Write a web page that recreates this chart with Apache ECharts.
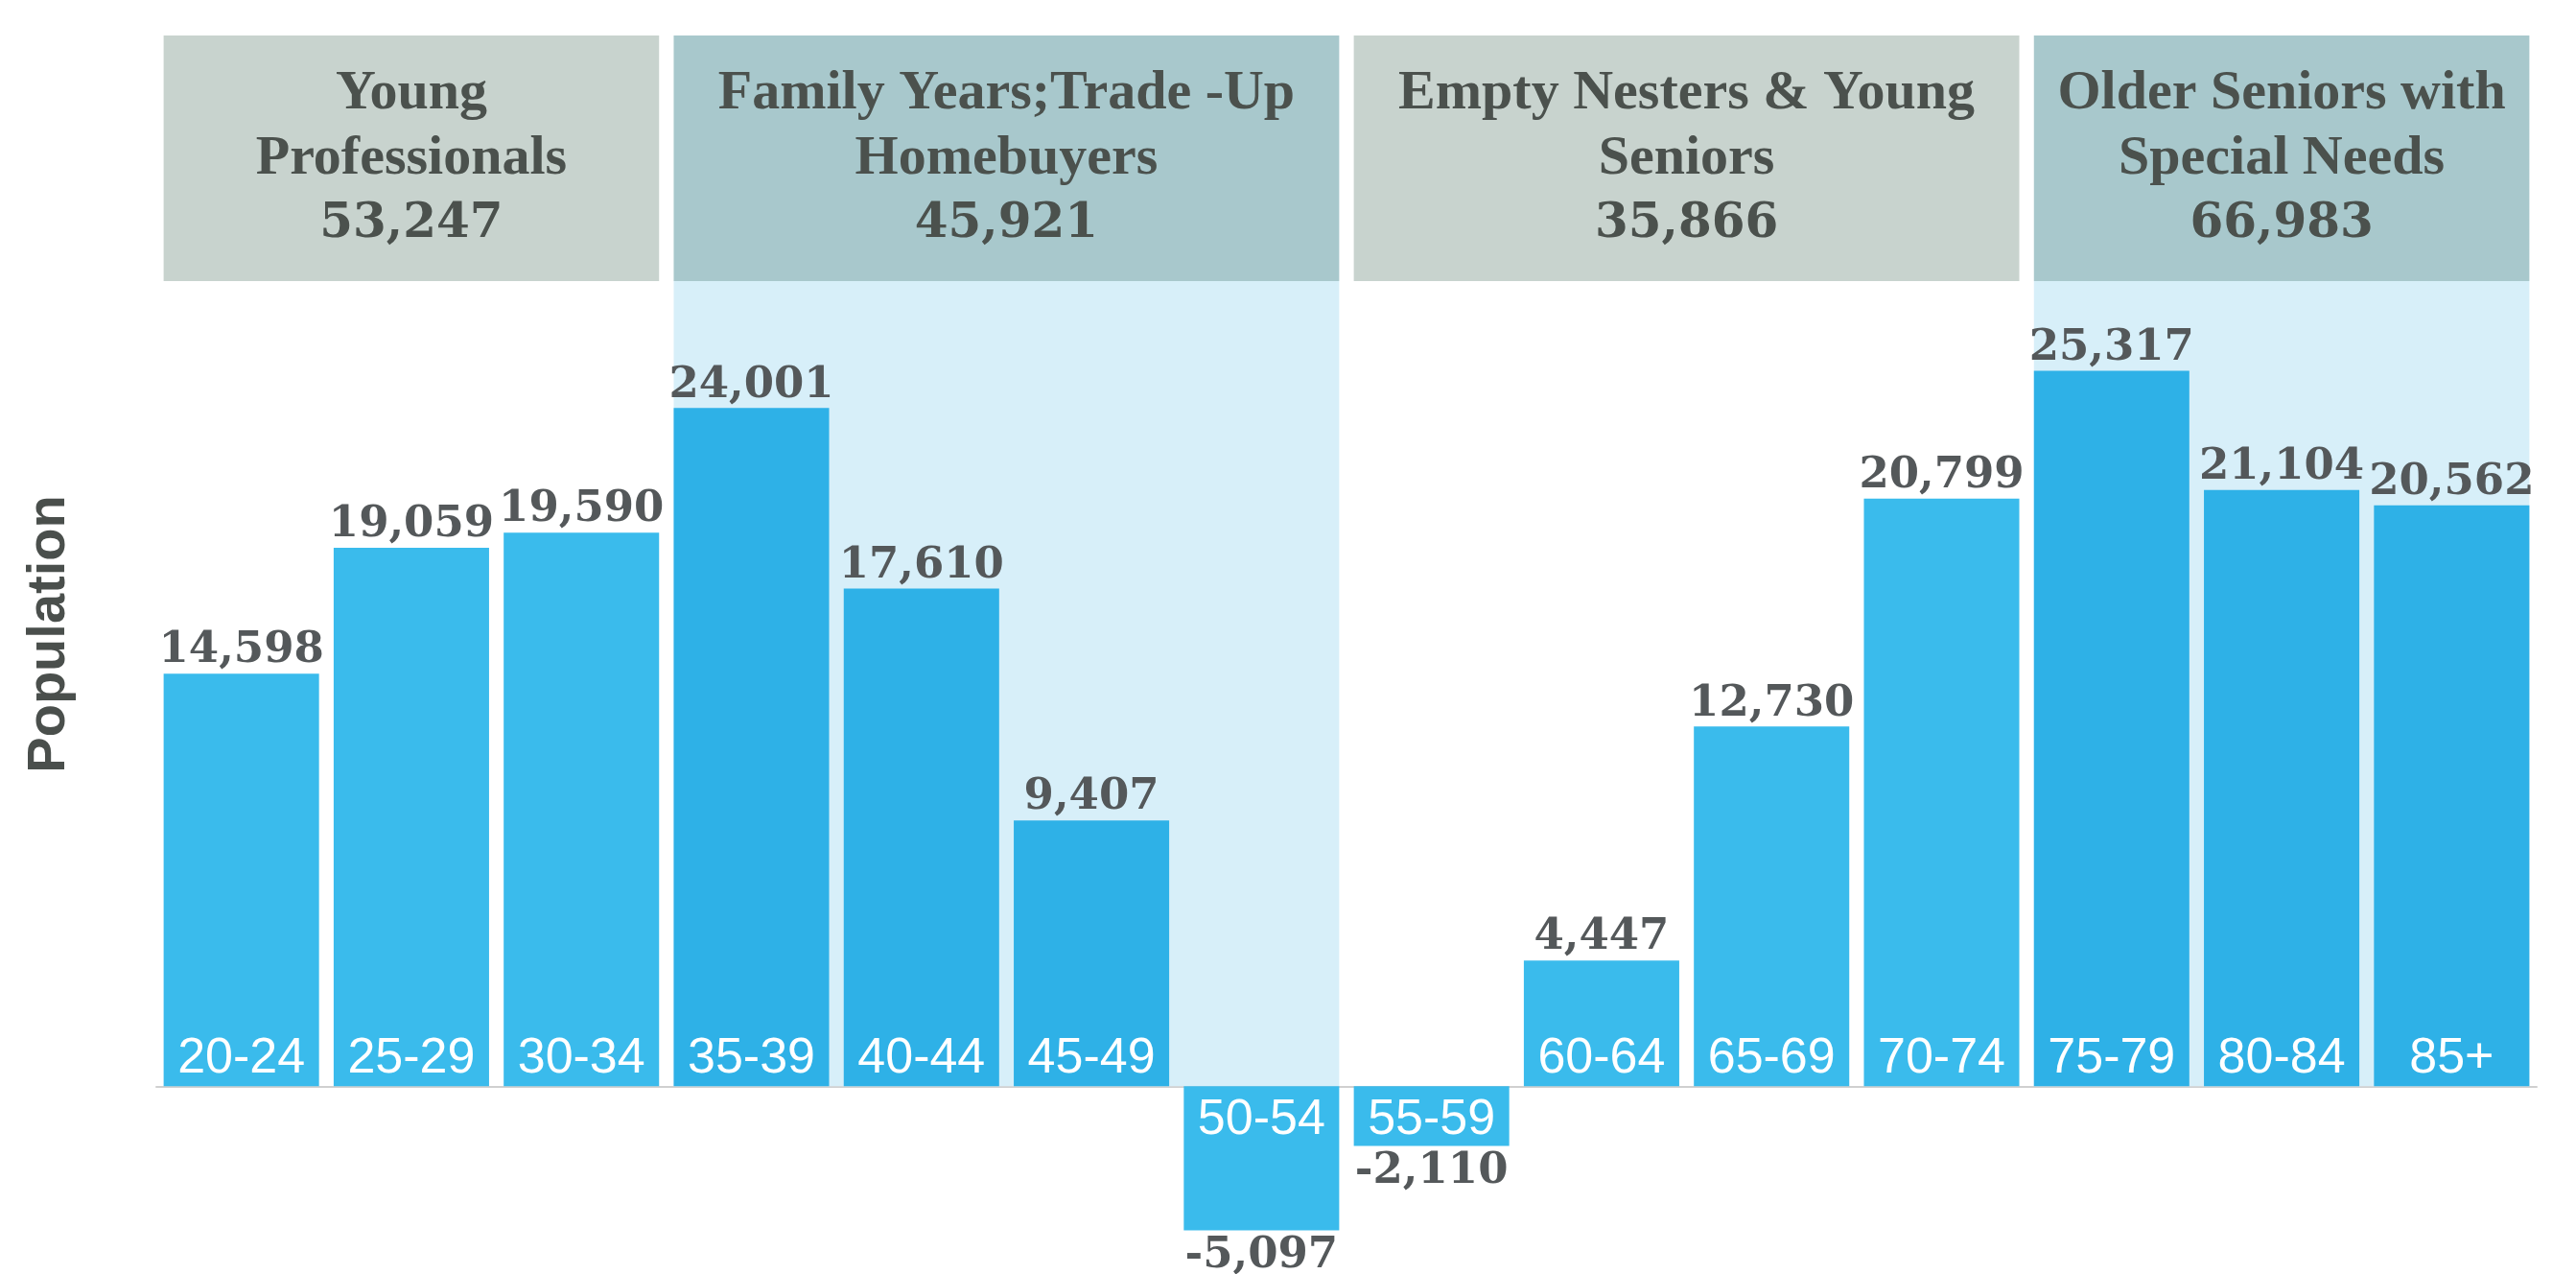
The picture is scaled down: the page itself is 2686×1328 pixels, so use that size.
<!DOCTYPE html>
<html>
<head>
<meta charset="utf-8">
<script src="https://cdn.jsdelivr.net/npm/echarts@6/dist/echarts.min.js"></script>
<style>
  html, body { margin: 0; padding: 0; background: #ffffff; }
  #chart { width: 2686px; height: 1328px; }
</style>
</head>
<body>
<div id="chart"></div>
<script>
// ---- data ----
const categories = ['20-24', '25-29', '30-34', '35-39', '40-44', '45-49', '50-54',
                    '55-59', '60-64', '65-69', '70-74', '75-79', '80-84', '85+'];
const populationChange = [14598, 19059, 19590, 24001, 17610, 9407, -5097,
                          -2110, 4447, 12730, 20799, 25317, 21104, 20562];
const groupNames = ['Young\nProfessionals',
                    'Family Years;Trade -Up\nHomebuyers',
                    'Empty Nesters & Young\nSeniors',
                    'Older Seniors with\nSpecial Needs'];
const groupTotals = [53247, 45921, 35866, 66983];
const groupStart = [0, 3, 7, 11];
const groupEnd = [2, 6, 10, 13];
const yAxisTitle = 'Population';

// ---- styles ----
const GAP = 0.086;
const HEADER_TOP = 37;
const HEADER_BOTTOM = 293;
const HEADER_TEXT_Y = 166;
const COLOR_BAR = '#3ABBEC';
const COLOR_BAR_BAND = '#2EB1E7';
const COLOR_BAND = '#D7EFF9';
const COLOR_HEAD_GRAY = '#C8D3CE';
const COLOR_HEAD_TEAL = '#A8C8CC';
const COLOR_TEXT = '#4B514D';
const COLOR_VALUE = '#54585A';

const fmt = v => v.toLocaleString('en-US');

function inBand(i) {
  for (let g = 0; g < groupStart.length; g++) {
    if (g % 2 === 1 && i >= groupStart[g] && i <= groupEnd[g]) return true;
  }
  return false;
}

const barData = populationChange.map((v, i) => ({
  value: v,
  itemStyle: { color: (v >= 0 && inBand(i)) ? COLOR_BAR_BAND : COLOR_BAR },
  label: v >= 0 ? { position: 'top', distance: 1 } : { position: 'bottom', distance: 4 }
}));

const catLabelData = populationChange.map(v => ({
  value: v,
  label: v >= 0 ? { position: 'insideBottom', distance: 3 } : { position: 'insideTop', distance: 9 }
}));

const groupData = groupStart.map((s, g) => [s, groupEnd[g], 0]);

function renderGroup(params, api) {
  const g = params.dataIndex;
  const s = api.value(0), e = api.value(1);
  const cw = api.size([1, 0])[0];
  const bw = cw * (1 - GAP);
  const pS = api.coord([s, 0]);
  const pE = api.coord([e, 0]);
  const x0 = pS[0] - bw / 2;
  const x1 = pE[0] + bw / 2;
  const base = pS[1];
  const teal = g % 2 === 1;
  const children = [];
  if (teal) {
    children.push({
      type: 'rect',
      shape: { x: x0, y: HEADER_BOTTOM, width: x1 - x0, height: base - HEADER_BOTTOM },
      style: { fill: COLOR_BAND }
    });
  }
  children.push({
    type: 'rect',
    shape: { x: x0, y: HEADER_TOP, width: x1 - x0, height: HEADER_BOTTOM - HEADER_TOP },
    style: { fill: teal ? COLOR_HEAD_TEAL : COLOR_HEAD_GRAY }
  });
  const lines = groupNames[g].split('\n').map(t => '{w|' + t + '}');
  lines.push('{n|' + fmt(groupTotals[g]) + '}');
  children.push({
    type: 'text',
    style: {
      x: (x0 + x1) / 2,
      y: HEADER_TEXT_Y,
      text: lines.join('\n'),
      align: 'center',
      verticalAlign: 'middle',
      fill: COLOR_TEXT,
      rich: {
        w: { fontFamily: 'Liberation Serif', fontWeight: 'bold', fontSize: 58, lineHeight: 68, color: COLOR_TEXT },
        n: { fontFamily: 'DejaVu Serif', fontWeight: 'bold', fontSize: 50, lineHeight: 68, color: COLOR_TEXT }
      }
    }
  });
  return { type: 'group', children };
}

const chart = echarts.init(document.getElementById('chart'), null, { renderer: 'canvas' });
chart.setOption({
  animation: false,
  backgroundColor: '#ffffff',
  grid: { left: 163, right: 41, top: 13, bottom: 19, containLabel: false },
  xAxis: {
    type: 'category',
    data: categories,
    axisLine: { show: true, onZero: true, lineStyle: { color: '#D0D0D0', width: 2 } },
    axisTick: { show: false },
    axisLabel: { show: false },
    splitLine: { show: false }
  },
  yAxis: {
    type: 'value',
    min: -6000,
    max: 38000,
    axisLine: { show: false },
    axisTick: { show: false },
    axisLabel: { show: false },
    splitLine: { show: false },
    name: yAxisTitle,
    nameLocation: 'middle',
    nameGap: 83,
    nameTextStyle: { fontFamily: 'Liberation Sans', fontWeight: 'bold', fontSize: 56, color: '#4A4F4C' }
  },
  series: [
    {
      type: 'custom',
      z: 1,
      silent: true,
      renderItem: renderGroup,
      data: groupData,
      encode: { x: [0, 1], y: 2 }
    },
    {
      type: 'bar',
      z: 2,
      data: barData,
      barCategoryGap: (GAP * 100) + '%',
      barGap: '-100%',
      label: {
        show: true,
        formatter: p => fmt(p.value),
        fontFamily: 'DejaVu Serif',
        fontWeight: 'bold',
        fontSize: 45,
        color: COLOR_VALUE
      }
    },
    {
      type: 'bar',
      z: 3,
      silent: true,
      data: catLabelData,
      barCategoryGap: (GAP * 100) + '%',
      barGap: '-100%',
      itemStyle: { color: 'rgba(0,0,0,0)' },
      label: {
        show: true,
        formatter: '{b}',
        fontFamily: 'Liberation Sans',
        fontWeight: 'normal',
        fontSize: 52,
        color: '#ffffff'
      }
    }
  ]
});
</script>
</body>
</html>
